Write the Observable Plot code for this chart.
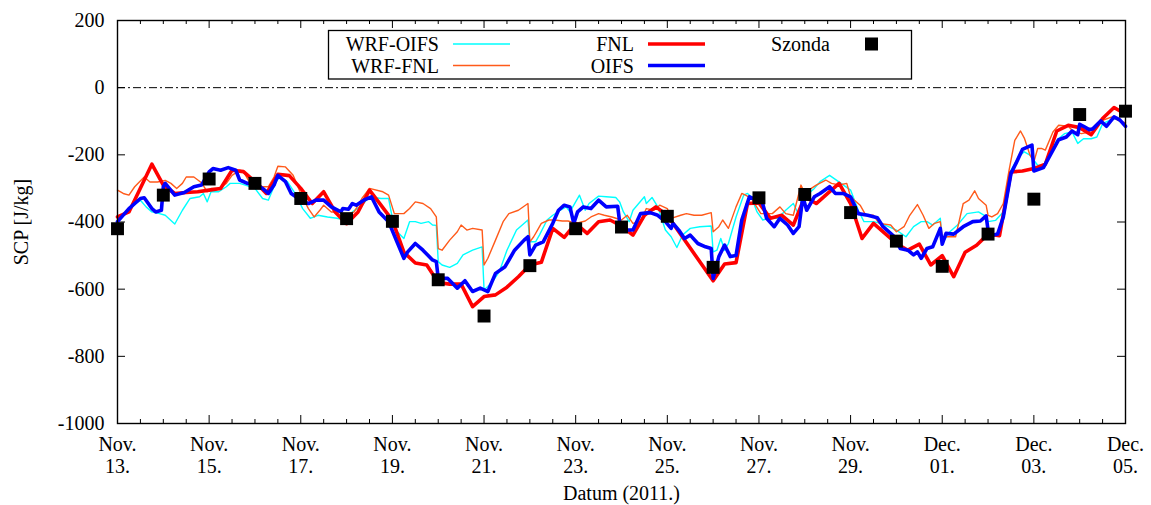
<!DOCTYPE html>
<html><head><meta charset="utf-8">
<script src="https://cdn.jsdelivr.net/npm/d3@7"></script>
<script src="https://cdn.jsdelivr.net/npm/@observablehq/plot@0.6"></script>
<style>body{margin:0;background:#fff}</style>
</head><body><div id="chart"></div>
<script>
// x values: hours since 2011-11-13 00 UTC ; y values: SCP [J/kg]
const yTicks = [200, 0, -200, -400, -600, -800, -1000];
const xMajor = [0, 48, 96, 144, 192, 240, 288, 336, 384, 432, 480, 528];
const xLabels = ["Nov.\n13.", "Nov.\n15.", "Nov.\n17.", "Nov.\n19.", "Nov.\n21.", "Nov.\n23.", "Nov.\n25.", "Nov.\n27.", "Nov.\n29.", "Dec.\n01.", "Dec.\n03.", "Dec.\n05."];
const xMinor = [12, 24, 36, 60, 72, 84, 108, 120, 132, 156, 168, 180, 204, 216, 228, 252, 264, 276, 300, 312, 324, 348, 360, 372, 396, 408, 420, 444, 456, 468, 492, 504, 516];
const legendLabels = ["WRF-OIFS", "WRF-FNL", "FNL", "OIFS", "Szonda"];

const wrfOifs = [[0,-399],[6,-360],[12,-335],[15,-355],[18,-370],[22,-375],[25,-380],[30,-406],[34,-365],[38,-330],[43,-325],[45,-315],[47,-340],[49,-310],[53,-310],[57,-295],[59,-285],[64,-285],[67,-290],[72,-300],[76,-330],[79,-335],[83,-280],[85,-266],[89,-280],[93,-315],[97,-360],[101,-389],[105,-380],[110,-385],[115,-389],[119,-394],[123,-370],[128,-350],[132,-325],[138,-330],[142,-330],[145,-420],[150,-449],[153,-399],[156,-399],[159,-404],[163,-399],[165,-409],[167,-410],[168,-518],[170,-528],[174,-535],[178,-523],[181,-498],[186,-484],[191,-474],[192,-602],[194,-592],[197,-573],[200,-548],[204,-484],[209,-424],[215,-394],[216,-459],[219,-459],[221,-439],[225,-394],[228,-380],[232,-365],[235,-355],[237,-370],[242,-320],[245,-365],[247,-345],[252,-323],[256,-325],[261,-327],[263,-340],[265,-370],[268,-399],[270,-365],[276,-325],[277,-345],[280,-327],[283,-355],[287,-424],[290,-444],[293,-476],[296,-439],[300,-419],[305,-414],[311,-412],[312,-489],[314,-484],[316,-449],[318,-484],[320,-464],[324,-385],[328,-320],[330,-315],[332,-325],[335,-370],[338,-394],[341,-389],[346,-389],[350,-365],[354,-345],[357,-380],[359,-305],[361,-320],[365,-300],[368,-280],[373,-261],[379,-285],[384,-305],[388,-365],[391,-399],[396,-399],[400,-404],[408,-424],[413,-444],[417,-414],[421,-399],[424,-399],[427,-409],[431,-389],[432,-464],[436,-429],[440,-409],[445,-375],[451,-370],[454,-380],[456,-399],[460,-395],[464,-370],[467,-256],[472,-206],[475,-191],[478,-201],[482,-231],[485,-231],[489,-191],[492,-157],[496,-137],[500,-132],[503,-166],[506,-152],[510,-152],[513,-147],[516,-107],[520,-97],[523,-92],[528,-112]];

const wrfFnl = [[0,-305],[3,-315],[6,-320],[9,-295],[14,-266],[17,-281],[21,-281],[25,-276],[28,-285],[31,-300],[34,-285],[36,-266],[40,-266],[44,-283],[47,-310],[49,-300],[53,-300],[57,-285],[60,-261],[64,-246],[66,-250],[69,-280],[72,-280],[76,-295],[79,-295],[82,-266],[84,-234],[88,-236],[92,-261],[96,-315],[100,-360],[103,-385],[106,-365],[108,-350],[112,-370],[116,-370],[119,-380],[124,-370],[128,-330],[132,-300],[139,-310],[142,-320],[145,-375],[150,-375],[153,-360],[156,-340],[160,-345],[164,-360],[167,-385],[168,-479],[170,-484],[174,-454],[178,-429],[180,-409],[183,-424],[186,-419],[191,-424],[192,-528],[194,-508],[198,-454],[202,-399],[205,-375],[210,-365],[215,-345],[216,-459],[218,-444],[220,-424],[222,-404],[226,-394],[229,-394],[233,-397],[236,-397],[240,-404],[245,-397],[248,-385],[252,-375],[255,-380],[259,-385],[264,-394],[267,-380],[270,-404],[274,-399],[277,-360],[281,-365],[284,-350],[288,-360],[290,-389],[295,-380],[298,-375],[302,-380],[306,-380],[311,-372],[312,-429],[315,-414],[317,-394],[320,-419],[324,-355],[327,-315],[329,-320],[332,-330],[337,-375],[343,-375],[347,-355],[350,-375],[354,-380],[358,-290],[360,-315],[362,-305],[366,-290],[371,-275],[374,-285],[378,-290],[382,-285],[384,-325],[389,-350],[392,-380],[396,-380],[399,-404],[405,-409],[408,-429],[412,-414],[415,-380],[419,-348],[422,-380],[425,-419],[428,-404],[431,-399],[432,-444],[436,-444],[439,-444],[443,-345],[446,-335],[449,-307],[451,-330],[455,-350],[456,-380],[458,-385],[461,-375],[464,-345],[467,-246],[470,-157],[473,-129],[475,-150],[478,-201],[480,-221],[482,-181],[484,-181],[486,-186],[490,-132],[493,-112],[498,-115],[501,-132],[505,-137],[509,-132],[513,-107],[516,-97],[521,-87],[524,-97],[528,-105]];

const fnl = [[0,-385],[6,-370],[18,-228],[24,-290],[30,-315],[36,-312],[42,-310],[48,-305],[54,-300],[60,-246],[66,-250],[72,-280],[78,-315],[84,-258],[90,-262],[96,-300],[102,-345],[108,-310],[114,-370],[120,-405],[126,-370],[132,-305],[138,-350],[144,-395],[150,-490],[156,-522],[162,-528],[168,-580],[174,-585],[180,-585],[186,-652],[192,-622],[198,-617],[204,-594],[210,-563],[216,-528],[222,-520],[228,-419],[234,-446],[240,-404],[246,-434],[252,-399],[258,-394],[264,-412],[270,-439],[276,-380],[282,-355],[288,-380],[312,-575],[318,-525],[324,-521],[330,-345],[336,-343],[342,-389],[348,-380],[354,-409],[360,-325],[366,-345],[372,-315],[378,-285],[384,-345],[390,-449],[396,-404],[402,-434],[408,-464],[414,-484],[420,-466],[426,-528],[432,-500],[438,-563],[444,-490],[450,-469],[456,-436],[462,-441],[468,-251],[474,-248],[480,-241],[486,-228],[492,-129],[498,-112],[504,-119],[510,-140],[516,-92],[522,-59],[528,-79]];

const oifs = [[0,-399],[6,-360],[12,-330],[14,-328],[18,-360],[20,-370],[23,-365],[24,-295],[25,-285],[30,-320],[35,-312],[40,-295],[44,-290],[48,-251],[50,-241],[54,-246],[58,-238],[62,-246],[64,-275],[68,-285],[72,-285],[76,-300],[79,-315],[82,-290],[84,-261],[88,-280],[91,-315],[96,-335],[100,-345],[104,-335],[108,-335],[112,-355],[117,-370],[118,-360],[121,-362],[123,-345],[125,-350],[129,-335],[133,-325],[137,-370],[142,-399],[146,-454],[150,-508],[152,-489],[156,-464],[160,-484],[165,-513],[167,-518],[168,-568],[173,-568],[178,-597],[182,-575],[186,-607],[190,-597],[192,-602],[194,-607],[198,-553],[203,-533],[208,-484],[213,-454],[215,-444],[216,-498],[219,-469],[223,-459],[228,-404],[231,-365],[234,-350],[237,-355],[239,-404],[241,-370],[244,-355],[248,-360],[252,-335],[256,-355],[262,-353],[263,-399],[267,-424],[270,-424],[274,-375],[279,-372],[283,-380],[287,-399],[290,-419],[291,-404],[294,-424],[297,-449],[300,-439],[304,-464],[308,-474],[311,-479],[312,-568],[315,-503],[318,-469],[321,-503],[324,-500],[327,-394],[331,-325],[333,-330],[337,-325],[340,-389],[344,-414],[347,-389],[351,-409],[354,-434],[357,-414],[359,-325],[361,-365],[365,-325],[368,-315],[373,-295],[376,-315],[380,-315],[384,-325],[386,-350],[388,-375],[393,-380],[398,-387],[401,-414],[407,-444],[410,-479],[414,-484],[417,-498],[419,-489],[421,-508],[424,-479],[427,-474],[431,-419],[432,-466],[434,-434],[438,-436],[443,-414],[448,-399],[452,-397],[455,-382],[456,-424],[459,-439],[461,-436],[464,-385],[468,-256],[471,-221],[474,-184],[479,-171],[480,-248],[485,-238],[490,-186],[493,-155],[497,-147],[500,-129],[503,-140],[504,-109],[506,-115],[509,-125],[511,-122],[515,-99],[518,-115],[522,-87],[525,-96],[528,-115]];

const szonda = [[0,-420],[24,-320],[48,-272],[72,-285],[96,-330],[120,-390],[144,-398],[168,-572],[192,-680],[216,-530],[240,-420],[264,-415],[288,-383],[312,-535],[336,-328],[360,-318],[384,-372],[408,-457],[432,-532],[456,-436],[480,-332],[504,-80],[528,-70]];

const rows = a => a.map(([t, v]) => ({t, v}));
const W = 1151, H = 505, ML = 117, MR = 26, MT = 20, MB = 82;
const FW = W - ML - MR, FH = H - MT - MB;
const font = "'Liberation Serif', 'Times New Roman', serif";
const C = {cyan: "#00ffff", orange: "#ff5a1a", red: "#ff0000", blue: "#0000ff"};

const plot = Plot.plot({
  width: W, height: H,
  marginLeft: ML, marginRight: MR, marginTop: MT, marginBottom: MB,
  style: {fontFamily: font, fontSize: "20px", background: "white", color: "black", overflow: "visible"},
  x: {domain: [0, 528]},
  y: {domain: [-1000, 200]},
  marks: [
    Plot.ruleY([0], {stroke: "black", strokeWidth: 1, strokeDasharray: "8,3,2,3"}),
    Plot.ruleX(xMajor, {x: d => d, insetTop: FH - 8, stroke: "black", strokeWidth: 1}),
    Plot.ruleX(xMajor, {x: d => d, insetBottom: FH - 8, stroke: "black", strokeWidth: 1}),
    Plot.ruleX(xMinor, {x: d => d, insetTop: FH - 4, stroke: "black", strokeWidth: 1}),
    Plot.ruleX(xMinor, {x: d => d, insetBottom: FH - 4, stroke: "black", strokeWidth: 1}),
    Plot.ruleY(yTicks, {y: d => d, insetRight: FW - 8, stroke: "black", strokeWidth: 1}),
    Plot.ruleY(yTicks, {y: d => d, insetLeft: FW - 8, stroke: "black", strokeWidth: 1}),
    Plot.line(rows(wrfOifs), {x: "t", y: "v", stroke: C.cyan, strokeWidth: 1.4}),
    Plot.line(rows(wrfFnl), {x: "t", y: "v", stroke: C.orange, strokeWidth: 1.4}),
    Plot.line(rows(fnl), {x: "t", y: "v", stroke: C.red, strokeWidth: 3.6}),
    Plot.line(rows(oifs), {x: "t", y: "v", stroke: C.blue, strokeWidth: 3.6}),
    Plot.dot(rows(szonda), {x: "t", y: "v", symbol: "square", r: 7.3, fill: "black"}),
    Plot.frame({stroke: "black", strokeWidth: 1.4}),
    Plot.axisX(xMajor, {tickSize: 0, tickPadding: 12, lineHeight: 1.1,
      tickFormat: d => xLabels[xMajor.indexOf(d)],
      label: "Datum (2011.)", labelAnchor: "center", labelOffset: 76, labelArrow: "none"}),
    Plot.axisY(yTicks, {tickSize: 0, tickPadding: 13, tickFormat: d => String(d),
      label: "SCP [J/kg]", labelAnchor: "center", labelOffset: 104, labelArrow: "none"})
  ]
});
document.getElementById("chart").appendChild(plot);

// legend box inside the frame (as in the gnuplot original)
const svg = d3.select(plot);
const lg = svg.append("g").attr("font-family", font).attr("font-size", 20);
lg.append("rect").attr("x", 328.5).attr("y", 30.5).attr("width", 583).attr("height", 48.5)
  .attr("fill", "white").attr("stroke", "black").attr("stroke-width", 1.3);
const entries = [
  {label: legendLabels[0], tx: 439, y: 44, kind: "line", color: C.cyan, w: 1.5, lx: 453},
  {label: legendLabels[1], tx: 439, y: 65.5, kind: "line", color: C.orange, w: 1.5, lx: 453},
  {label: legendLabels[2], tx: 634, y: 44, kind: "line", color: C.red, w: 3.6, lx: 648},
  {label: legendLabels[3], tx: 634, y: 65.5, kind: "line", color: C.blue, w: 3.6, lx: 648},
  {label: legendLabels[4], tx: 830, y: 44, kind: "square", color: "black", lx: 865}
];
for (const e of entries) {
  lg.append("text").attr("x", e.tx).attr("y", e.y).attr("dy", "0.35em")
    .attr("text-anchor", "end").attr("fill", "black").text(e.label);
  if (e.kind === "line") {
    lg.append("line").attr("x1", e.lx).attr("x2", e.lx + 57).attr("y1", e.y).attr("y2", e.y)
      .attr("stroke", e.color).attr("stroke-width", e.w);
  } else {
    lg.append("rect").attr("x", e.lx).attr("y", e.y - 6.5).attr("width", 13).attr("height", 13).attr("fill", e.color);
  }
}
</script>
</body></html>
